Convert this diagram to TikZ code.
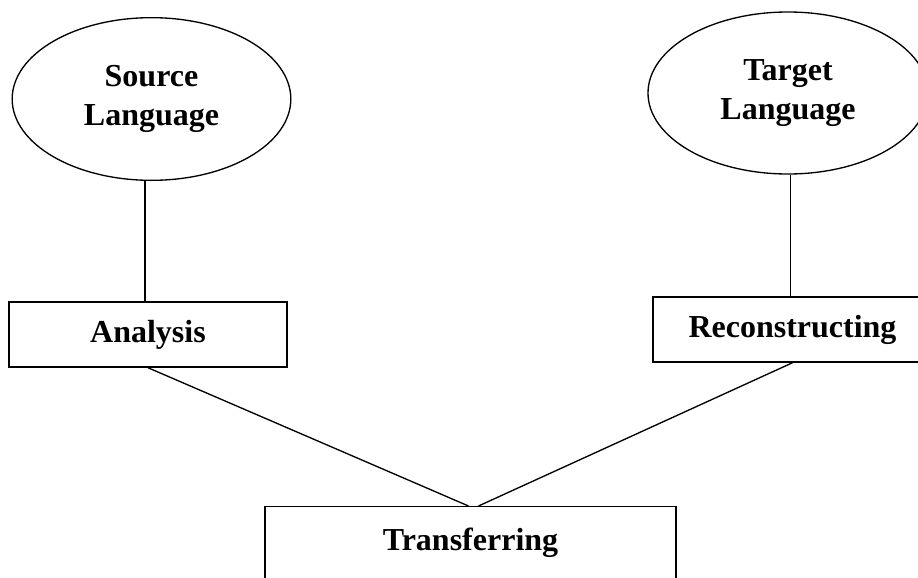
\documentclass[tikz,border=0pt]{standalone}
\usepackage{fontspec}
\setmainfont{Liberation Serif}
\usetikzlibrary{shapes.geometric}

\begin{document}
\begin{tikzpicture}[
                x=0.75pt, y=-0.75pt,
                lang/.style={
                    draw,
                    ellipse,
                    line width=1pt,
                    inner sep=0pt,
                    align=center,
                    minimum width=209pt,
                    minimum height=122pt
                },
                box/.style={
                    draw,
                    line width=1.1pt,
                    inner sep=0pt,
                    align=center,
                    minimum width=209pt,
                    minimum height=48.75pt
                },
                conn/.style={
                    line width=1pt
                },
                every node/.style={font=\fontsize{24}{29.25}\selectfont\bfseries}
            ]
                \useasboundingbox (0,0) rectangle (918,578);
                \clip (0,0) rectangle (918,578);

                \node[lang] (source) at (151.5,99) {Source\\Language};
                \node[lang, minimum width=210pt, minimum height=121.5pt] (target) at (788,93) {Target\\Language};
                \node[box, minimum width=208.5pt] (analysis) at (148,334.5) {Analysis};
                \node[box] (recon) at (792.5,329.5) {Reconstructing};
                \node[box, anchor=north, minimum width=308.25pt, text height=33pt, text depth=52pt] (transfer) at (470.5,506) {Transferring};

                \draw[conn] ([xshift=-5pt]source.south) -- ([xshift=-5pt]source.south |- analysis.north);
                \draw[conn] ([xshift=2pt]target.south) -- ([xshift=2pt]target.south |- recon.north);
                \draw[conn] (analysis.south) -- ([xshift=-1.5pt]transfer.north);
                \draw[conn] (recon.south) -- ([xshift=6pt]transfer.north);
            \end{tikzpicture}
\end{document}
